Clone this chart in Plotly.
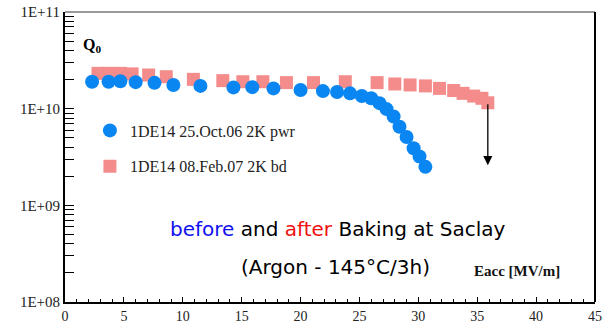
import math
import plotly.graph_objects as go

# Q0 vs Eacc, cavity 1DE14, before baking (25 Oct 06)
eacc_before = [2.3, 3.7, 4.7, 6.0, 7.6, 9.2, 11.5, 14.3, 15.9, 17.7, 20.0, 21.9,
               23.1, 24.2, 25.2, 26.0, 26.7, 27.3, 27.9, 28.4, 29.0, 29.6, 30.1, 30.6]
q0_before = [1.90e10, 1.90e10, 1.92e10, 1.88e10, 1.85e10, 1.76e10, 1.72e10, 1.66e10,
             1.67e10, 1.62e10, 1.56e10, 1.52e10, 1.49e10, 1.44e10, 1.35e10, 1.28e10,
             1.14e10, 9.9e9, 8.3e9, 6.5e9, 5.1e9, 3.9e9, 3.2e9, 2.5e9]

# after baking (08 Feb 07)
eacc_after = [2.8, 3.7, 4.7, 5.7, 7.1, 8.6, 10.9, 13.4, 15.1, 16.8, 18.8, 21.1,
              23.8, 26.5, 28.0, 29.3, 30.6, 31.8, 33.0, 33.8, 34.7, 35.4, 35.9]
q0_after = [2.32e10, 2.32e10, 2.32e10, 2.29e10, 2.23e10, 2.14e10, 2.01e10, 1.95e10,
            1.90e10, 1.90e10, 1.86e10, 1.86e10, 1.90e10, 1.86e10, 1.80e10, 1.76e10,
            1.72e10, 1.62e10, 1.54e10, 1.44e10, 1.35e10, 1.28e10, 1.15e10]

# quench arrow end
arrow_x = 35.9
arrow_y_end = 2.6e9

x_ticks = [0, 5, 10, 15, 20, 25, 30, 35, 40, 45]
decades = [1e8, 1e9, 1e10, 1e11]
decade_labels = ["1E+08", "1E+09", "1E+10", "1E+11"]

# log-axis ticks at 1..9 of every decade, labelled only at the decades
y_tickvals = []
y_ticktext = []
for d, lab in zip(decades, decade_labels):
    for m in range(1, 10):
        v = d * m
        if v > 1e11:
            break
        y_tickvals.append(v)
        y_ticktext.append(lab if m == 1 else "")

serif = "Liberation Serif"
blue = "#0A86F2"
pink = "#F58C8C"

fig = go.Figure()
# pink squares first so the blue circles sit on top
fig.add_trace(go.Scatter(
    x=eacc_after, y=q0_after, mode="markers", name="1DE14 08.Feb.07 2K bd",
    legendgroup="b", legendrank=2,
    marker=dict(symbol="square", size=13, color=pink, line=dict(width=0)),
))
fig.add_trace(go.Scatter(
    x=eacc_before, y=q0_before, mode="markers", name="1DE14 25.Oct.06 2K pwr",
    legendgroup="a", legendrank=1,
    marker=dict(symbol="circle", size=14, color=blue, line=dict(width=0)),
))

fig.update_layout(
    width=610, height=333,
    margin=dict(l=65, r=15, t=12, b=31, autoexpand=False),
    paper_bgcolor="white", plot_bgcolor="white",
    showlegend=True,
    legend=dict(
        x=0.047, y=0.65, xanchor="left", yanchor="top",
        traceorder="grouped",
        font=dict(family=serif, size=16, color="#222"),
        bgcolor="rgba(0,0,0,0)", itemsizing="trace",
        tracegroupgap=12, itemwidth=30,
    ),
    xaxis=dict(
        range=[0, 45], tickvals=x_ticks, showgrid=False, zeroline=False,
        automargin=False,
        showline=True, linecolor="black", linewidth=2,
        ticks="inside", ticklen=5, tickcolor="black",
        minor=dict(dtick=1, ticks="inside", ticklen=3, tickcolor="black", showgrid=False),
        tickfont=dict(family=serif, size=14, color="#222"),
    ),
    yaxis=dict(
        type="log", range=[8, 11], tickvals=y_tickvals, ticktext=y_ticktext,
        showgrid=False, zeroline=False, automargin=False,
        showline=True, linecolor="black", linewidth=2,
        ticks="inside", ticklen=9, tickcolor="black", tickwidth=1.2,
        tickfont=dict(family=serif, size=15, color="#222"),
    ),
    shapes=[
        dict(type="line", xref="paper", yref="paper", x0=0, x1=1, y0=1, y1=1,
             line=dict(color="#777", width=1.5)),
        dict(type="line", xref="paper", yref="paper", x0=1, x1=1, y0=0, y1=1,
             line=dict(color="black", width=2)),
    ],
    annotations=[
        dict(x=arrow_x, y=math.log10(arrow_y_end), ax=arrow_x, ay=math.log10(q0_after[-1]),
             xref="x", yref="y", axref="x", ayref="y",
             text="", showarrow=True, arrowhead=2, arrowsize=1.4,
             arrowwidth=1.3, arrowcolor="black"),
        dict(x=0.03, y=0.925, xref="paper", yref="paper", xanchor="left",
             text="<b>Q<sub>0</sub></b>", showarrow=False,
             font=dict(family=serif, size=16, color="black")),
        dict(x=0.853, y=0.073, xref="paper", yref="paper", xanchor="center",
             text="<b>Eacc [MV/m]</b>", showarrow=False,
             font=dict(family=serif, size=15, color="#111")),
        dict(x=0.515, y=0.203, xref="paper", yref="paper", xanchor="center",
             text="<span style='color:#1010F0'>before</span> and "
                  "<span style='color:#F01010'>after</span> Baking at Saclay",
             showarrow=False, font=dict(family="DejaVu Sans", size=20, color="black")),
        dict(x=0.51, y=0.072, xref="paper", yref="paper", xanchor="center",
             text="(Argon - 145°C/3h)", showarrow=False,
             font=dict(family="DejaVu Sans", size=20, color="black")),
    ],
)

fig.write_html("out.html")
